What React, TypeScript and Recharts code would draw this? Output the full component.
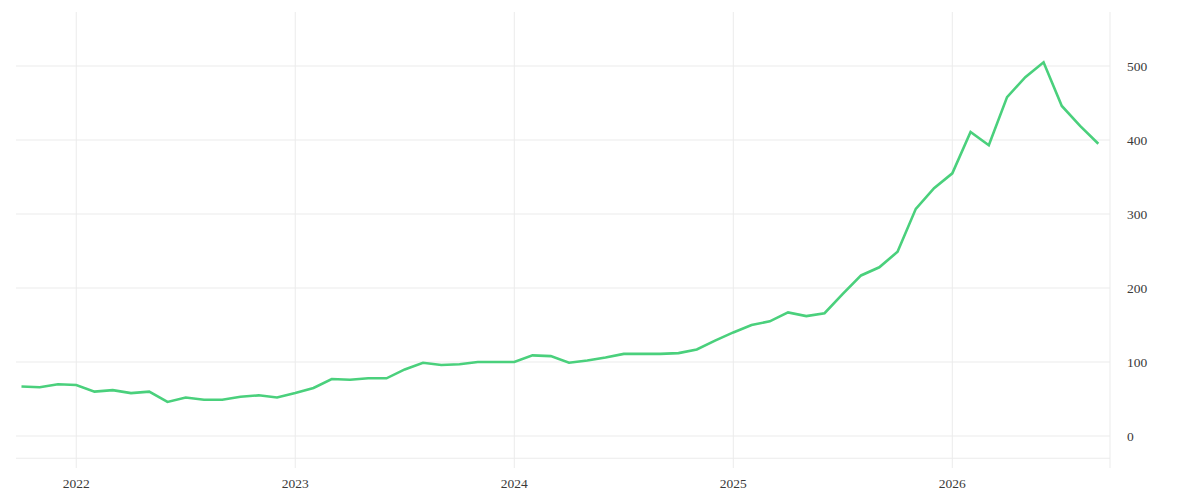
import React from 'react';
import {
    LineChart,
    Line,
    XAxis,
    YAxis,
    CartesianGrid,
    ReferenceLine,
} from 'recharts';

// monthly observations, Oct 2021 .. Sep 2026
const months = [
    '2021-10', '2021-11', '2021-12',
    '2022-01', '2022-02', '2022-03', '2022-04', '2022-05', '2022-06',
    '2022-07', '2022-08', '2022-09', '2022-10', '2022-11', '2022-12',
    '2023-01', '2023-02', '2023-03', '2023-04', '2023-05', '2023-06',
    '2023-07', '2023-08', '2023-09', '2023-10', '2023-11', '2023-12',
    '2024-01', '2024-02', '2024-03', '2024-04', '2024-05', '2024-06',
    '2024-07', '2024-08', '2024-09', '2024-10', '2024-11', '2024-12',
    '2025-01', '2025-02', '2025-03', '2025-04', '2025-05', '2025-06',
    '2025-07', '2025-08', '2025-09', '2025-10', '2025-11', '2025-12',
    '2026-01', '2026-02', '2026-03', '2026-04', '2026-05', '2026-06',
    '2026-07', '2026-08', '2026-09',
];

const values = [
    67, 66, 70,
    69, 60, 62, 58, 60, 46,
    52, 49, 49, 53, 55, 52,
    58, 65, 77, 76, 78, 78,
    90, 99, 96, 97, 100, 100,
    100, 109, 108, 99, 102, 106,
    111, 111, 111, 112, 117, 129,
    140, 150, 155, 167, 162, 166,
    192, 217, 228, 249, 307, 335,
    355, 411, 393, 458, 485, 505,
    446, 419, 395,
];

const yearLabels = ['2022', '2023', '2024', '2025', '2026'];
const yTicks = [0, 100, 200, 300, 400, 500];

const BASE_YEAR = 2022;
const monthIndex = (m: string) => {
    const [y, mo] = m.split('-').map(Number);
    return (y - BASE_YEAR) * 12 + (mo - 1);
};

const data = months.map((m, i) => ({ t: monthIndex(m), value: values[i] }));
const xTicks = yearLabels.map((y) => monthIndex(`${y}-01`));

const GRID = '#ebebeb';
const TEXT = '#3a3a3a';
const FONT = '"Liberation Serif", serif';

export default function App() {
    return (
        <div style={{ position: 'fixed', left: 0, top: 0, width: 1200, height: 500, background: '#fff' }}>
            <LineChart
                width={1200}
                height={500}
                data={data}
                margin={{ top: 12, right: 0, bottom: 0, left: 16 }}
            >
                <CartesianGrid stroke={GRID} strokeWidth={1} syncWithTicks />
                <XAxis
                    dataKey="t"
                    type="number"
                    domain={[-3.3, 56.64]}
                    ticks={xTicks}
                    tickFormatter={(v) => String(BASE_YEAR + Math.round(v / 12))}
                    axisLine={false}
                    tickLine={false}
                    tickSize={6}
                    tickMargin={4}
                    height={32}
                    tick={{ fill: TEXT, fontSize: 13.5, fontFamily: FONT }}
                />
                <YAxis
                    orientation="right"
                    type="number"
                    domain={[-43.2, 573]}
                    ticks={yTicks}
                    allowDataOverflow
                    axisLine={{ stroke: GRID }}
                    tickLine={false}
                    tickSize={6}
                    tickMargin={11}
                    width={90}
                    tick={{ fill: TEXT, fontSize: 13.5, fontFamily: FONT, textAnchor: 'start' }}
                />
                {/* faint rule just above the bottom edge */}
                <ReferenceLine y={-30} stroke={GRID} strokeWidth={1} />
                <Line
                    type="linear"
                    dataKey="value"
                    stroke="#4ad07c"
                    strokeWidth={2.6}
                    dot={false}
                    isAnimationActive={false}
                />
            </LineChart>
        </div>
    );
}
